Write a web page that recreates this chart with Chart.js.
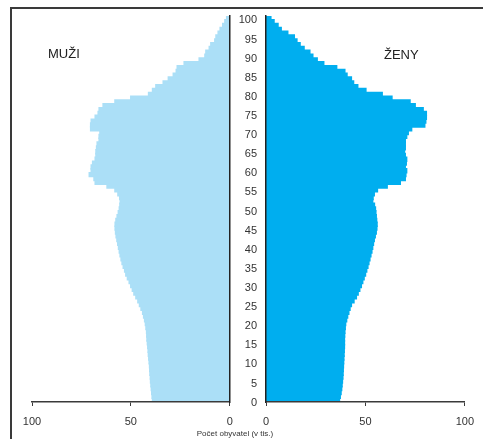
<!DOCTYPE html>
<html>
<head>
<meta charset="utf-8">
<script src="https://cdn.jsdelivr.net/npm/chart.js@4"></script>
<style>
  body { margin: 0; background: #fff; font-family: "Liberation Sans", Arial, sans-serif; }
  #wrap { position: relative; width: 483px; height: 439px; overflow: hidden; }
  .frame { position: absolute; left: 10px; top: 7px; width: 473px; height: 432px;
           border-top: 2px solid #3a3a3a; border-left: 2px solid #3a3a3a; }
  canvas { position: absolute; top: 0; }
  .lbl { position: absolute; font-size: 13px; color: #222; line-height: 15px; }
  .axisTitle { position: absolute; top: 429px; left: 175px; width: 120px; text-align: center;
               font-size: 8px; color: #333; line-height: 10px; }
</style>
</head>
<body>
<div id="wrap">
  <div class="frame"></div>
  <canvas id="muzi" width="240" height="439" style="left:0"></canvas>
  <canvas id="zeny" width="251" height="439" style="left:232px"></canvas>
  <div class="lbl" style="left:48px; top:46px">MUŽI</div>
  <div class="lbl" style="left:384px; top:47px">ŽENY</div>
  <div class="axisTitle">Počet obyvatel (v tis.)</div>
</div>
<script>
// věk 0..100
const ages = [];
for (let i = 0; i <= 100; i++) ages.push(i);

// muži, tisíce osob (věk 0..100)
const muzi = [
  39, 39.2, 39.4, 39.6, 39.8, 40, 40.1, 40.3, 40.4, 40.5,
  40.7, 40.9, 41.1, 41.2, 41.4, 41.6, 41.8, 41.9, 42, 42.3,
  42.6, 43, 43.5, 44, 44.8, 45.6, 46.4, 47.4, 48.4, 49.2,
  50, 50.8, 51.7, 52.5, 53.1, 53.8, 54.4, 54.9, 55.4, 55.8,
  56.2, 56.6, 57, 57.4, 57.7, 57.9, 57.9, 57.5, 56.9, 56.3,
  55.8, 55.5, 55.3, 55.6, 56.5, 58, 62, 68, 68.6, 71,
  70, 70, 69.3, 68, 67.6, 67.6, 67.3, 67, 66, 66,
  65.6, 70.3, 70.3, 70, 68, 66.5, 66, 64, 58, 50,
  41, 39, 37.3, 33.6, 31, 28.5, 27, 26.5, 23, 15.4,
  12.5, 12, 10.3, 9.5, 7.5, 6.9, 5.8, 4.8, 3.5, 2.4,
  1.5
];

// ženy, tisíce osob (věk 0..100)
const zeny = [
  36.9, 37.3, 37.7, 38, 38.2, 38.4, 38.6, 38.7, 38.8, 38.9,
  39, 39.1, 39.2, 39.3, 39.4, 39.4, 39.4, 39.5, 39.6, 39.8,
  40, 40.5, 41, 41.6, 42.2, 42.9, 44.2, 45.4, 46.3, 47.1,
  47.9, 48.6, 49.3, 50, 50.6, 51.2, 51.7, 52.2, 52.7, 53.2,
  53.6, 54, 54.4, 54.9, 55.4, 55.7, 55.8, 55.6, 55.4, 55.2,
  55, 54.5, 53.6, 53.8, 54.4, 56, 60.9, 67.5, 70, 70.3,
  70.7, 70, 70.5, 70.7, 70, 69.6, 70, 70, 70, 70.7,
  71.5, 73.2, 79.8, 80.3, 80.6, 80.6, 79, 75, 72.4, 63.3,
  58.4, 50.2, 46.1, 44, 42.9, 40.7, 39.6, 35.5, 29, 25.7,
  23.5, 22, 19.1, 17.1, 15.5, 14.2, 10.9, 7.6, 6, 4,
  2.4
];

const xTicks = [0, 50, 100];

const tickFont = { family: '"Liberation Sans", Arial, sans-serif', size: 11 };
const axisColor = '#3a3a3a';

function xScale(reverse) {
  return {
    type: 'linear',
    reverse: reverse,
    min: 0,
    max: 100,
    afterBuildTicks: s => { s.ticks = xTicks.map(v => ({ value: v })); },
    afterFit: s => { s.height = 37; },
    ticks: { font: tickFont, color: '#333', padding: 9, maxRotation: 0 },
    grid: { display: true, drawOnChartArea: false, drawTicks: true, tickLength: 4, color: axisColor, lineWidth: 1 },
    border: { display: true, color: axisColor, width: 1.5, z: 1 },
  };
}

function makeChart(id, data, color, left) {
  const ctx = document.getElementById(id).getContext('2d');
  return new Chart(ctx, {
    type: 'bar',
    data: {
      labels: ages,
      datasets: [{
        data: data,
        backgroundColor: color,
        borderWidth: 0,
        barPercentage: 1,
        categoryPercentage: 1,
        inflateAmount: 0.8, // overlap neighbouring bars, no seams
      }],
    },
    options: {
      indexAxis: 'y',
      responsive: false,
      devicePixelRatio: 1,
      animation: false,
      layout: { padding: left ? { left: 32, right: 10.3, top: 16, bottom: 0 } : { left: 0, right: 13.5, top: 16, bottom: 0 } },
      plugins: { legend: { display: false }, tooltip: { enabled: false } },
      scales: {
        x: xScale(left),
        y: {
          type: 'category',
          reverse: true,
          position: left ? 'right' : 'left',
          afterFit: s => { s.width = left ? 0 : 34; },
          ticks: {
            display: !left,
            autoSkip: false,
            font: tickFont,
            color: '#333',
            padding: 9,
            labelOffset: 2.5,
            callback: function (v) { return ages[v] % 5 === 0 ? String(ages[v]) : ''; },
          },
          grid: { display: false, drawTicks: false },
          border: { display: true, color: '#222', width: 1.5, z: 1 },
        },
      },
    },
  });
}

makeChart('muzi', muzi, '#abdff7', true);
makeChart('zeny', zeny, '#00aeef', false);
</script>
</body>
</html>
